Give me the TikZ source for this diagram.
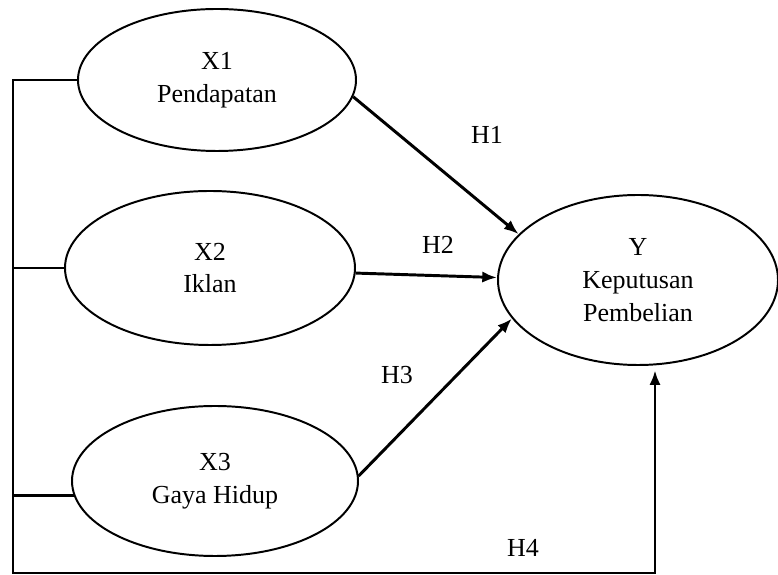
\documentclass[tikz,border=0pt]{standalone}
\usepackage{fontspec}
\setmainfont{Liberation Serif}
\usetikzlibrary{shapes.geometric,arrows.meta}
\begin{document}
\begin{tikzpicture}[>={Latex[length=10.5pt,width=8pt]},
    var/.style={ellipse,draw,line width=1.4pt,inner sep=0pt,align=center,
      font=\fontsize{18.5}{23.4}\selectfont},
    link/.style={line width=2.1pt},
    lbl/.style={font=\fontsize{18.5}{22}\selectfont}]
    \useasboundingbox (0,0) rectangle (19.45,14.375);
    % latent variables
    \node[var,minimum width=6.95cm,minimum height=3.55cm] (x1) at (5.425,12.375) {X1\\Pendapatan};
    \node[var,minimum width=7.25cm,minimum height=3.85cm] (x2) at (5.25,7.675) {X2\\Iklan};
    \node[var,minimum width=7.15cm,minimum height=3.75cm] (x3) at (5.375,2.35) {X3\\Gaya Hidup};
    \node[var,minimum width=7.0cm,minimum height=4.25cm] (y) at (15.95,7.375) {Y\\Keputusan\\Pembelian};
    % hypotheses
    \draw[link,->] (x1.-7) -- (y.159);
    \draw[link,->] (x2.-2) -- (y.179);
    \draw[link,->] (x3.2) -- (y.197);
    \coordinate (lb) at (0.325,0.05);
    \coordinate (rb) at (16.375,0.05);
    \draw[link] (x2.west) -- (x2.west -| lb);
    \draw[link] (x3.186) -- (x3.186 -| lb);
    \draw[link,->] (x1.west) -| (lb) -- (rb) -- ([yshift=-3pt]rb |- y.south);
    \node[lbl] (h1) at (12.175,11.0) {H1};
    \node[lbl] (h2) at (10.95,8.25) {H2};
    \node[lbl] (h3) at (9.925,5.0) {H3};
    \node[lbl] (h4) at (13.075,0.675) {H4};
\end{tikzpicture}
\end{document}
